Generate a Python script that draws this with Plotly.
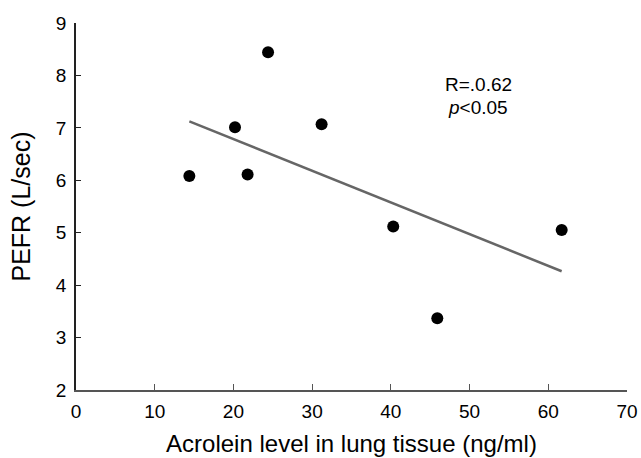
import numpy as np
import plotly.graph_objects as go

acrolein = [14.4, 20.2, 21.8, 24.4, 31.2, 40.3, 45.9, 61.7]
pefr = [6.08, 7.01, 6.11, 8.44, 7.07, 5.12, 3.37, 5.05]
x_ticks = [0, 10, 20, 30, 40, 50, 60, 70]
y_ticks = [2, 3, 4, 5, 6, 7, 8, 9]
stat_r = "R=.0.62"
stat_p = "<i>p</i><0.05"

slope, intercept = np.polyfit(acrolein, pefr, 1)
fit_x = [min(acrolein), max(acrolein)]
fit_y = [slope * v + intercept for v in fit_x]

FONT = "Liberation Sans, Arial, Helvetica, sans-serif"

fig = go.Figure()
fig.add_trace(go.Scatter(x=fit_x, y=fit_y, mode="lines",
                         line=dict(color="#666666", width=2.5), hoverinfo="skip"))
fig.add_trace(go.Scatter(x=acrolein, y=pefr, mode="markers",
                         marker=dict(color="black", size=12, line=dict(width=0))))

fig.add_annotation(x=51.1, y=7.6, xref="x", yref="y", text=stat_r, showarrow=False,
                   yanchor="bottom", borderpad=0,
                   font=dict(family=FONT, size=19, color="black"))
fig.add_annotation(x=51.1, y=7.6, xref="x", yref="y", text=stat_p, showarrow=False,
                   yanchor="top", borderpad=0,
                   font=dict(family=FONT, size=19, color="black"))

fig.update_layout(
    template="none",
    width=641, height=458,
    margin=dict(l=76, r=14, t=23, b=68, autoexpand=False),
    paper_bgcolor="white", plot_bgcolor="white",
    showlegend=False,
    font=dict(family=FONT, color="black"),
    xaxis=dict(range=[0, 70], tickvals=x_ticks, ticks="inside", ticklen=6,
               tickcolor="#555555", showline=True, linecolor="#555555", linewidth=2,
               showgrid=False, zeroline=False, tickfont=dict(size=19),
               ticklabelstandoff=3, automargin=False,
               title=dict(text="Acrolein level in lung tissue (ng/ml)",
                          font=dict(size=24), standoff=14)),
    yaxis=dict(range=[2, 9], tickvals=y_ticks, ticks="inside", ticklen=5,
               tickcolor="#222222", showline=True, linecolor="#222222", linewidth=1.5,
               showgrid=False, zeroline=False, tickfont=dict(size=19),
               ticklabelstandoff=4, automargin=False,
               title=dict(text="PEFR (L/sec)", font=dict(size=25), standoff=18)),
)

fig.write_html("out.html", config={"displayModeBar": False},
               post_script="document.body.style.margin='0';document.body.style.overflow='hidden';")
